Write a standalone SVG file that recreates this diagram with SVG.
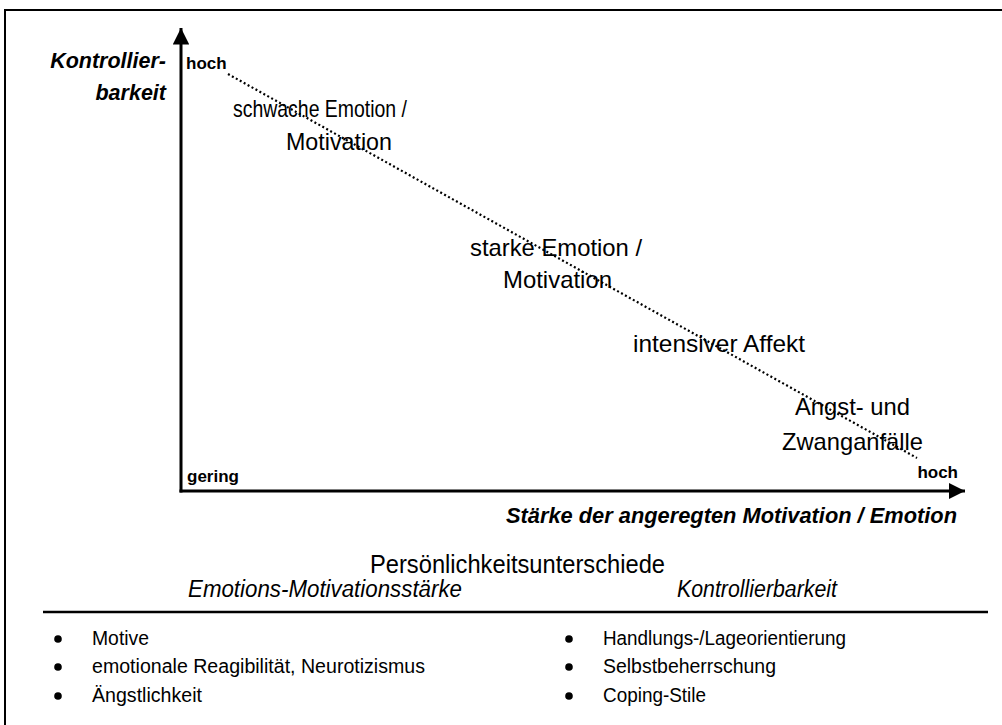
<svg xmlns="http://www.w3.org/2000/svg" width="1002" height="725" viewBox="0 0 1002 725">
<style>
.bi{font-family:"Liberation Sans",Arial,sans-serif;font-weight:bold;font-style:italic;font-size:21.5px;fill:#000}
.b{font-family:"Liberation Sans",Arial,sans-serif;font-weight:bold;font-size:17px;fill:#000}
.r{font-family:"Liberation Sans",Arial,sans-serif;font-size:24px;fill:#000}
.i{font-family:"Liberation Sans",Arial,sans-serif;font-style:italic;font-size:23px;fill:#000}
.l{font-family:"Liberation Sans",Arial,sans-serif;font-size:20px;fill:#000}
.axis{stroke:#000;stroke-width:3;fill:none}
</style>
<defs>
<marker id="ah" viewBox="0 0 10 10" refX="10" refY="5" markerWidth="5.5" markerHeight="5.5" markerUnits="strokeWidth" orient="auto">
<path d="M0,0 L10,5 L0,10 Z" fill="#000"/>
</marker>
</defs>
<rect x="5" y="10" width="1100" height="800" fill="#fff" stroke="#000" stroke-width="2"/>
<g id="connectors">
<line class="axis" x1="181" y1="492.5" x2="181" y2="28" marker-end="url(#ah)"/>
<line class="axis" x1="179.5" y1="491" x2="965" y2="491" marker-end="url(#ah)"/>
<line x1="228" y1="74" x2="917" y2="458" stroke="#000" stroke-width="2.2" stroke-dasharray="2 2.5"/>
</g>
<g id="y-axis-label">
<text class="bi" x="166" y="68" text-anchor="end">Kontrollier-</text>
<text class="bi" x="166" y="100" text-anchor="end">barkeit</text>
<text class="b" x="186" y="69">hoch</text>
<text class="b" x="187" y="482">gering</text>
</g>
<g id="x-axis-label">
<text class="bi" x="957" y="523" text-anchor="end" textLength="451" lengthAdjust="spacingAndGlyphs">Stärke der angeregten Motivation / Emotion</text>
<text class="b" x="958" y="478" text-anchor="end">hoch</text>
</g>
<g id="node-schwach">
<text class="r" x="233" y="117" textLength="174" lengthAdjust="spacingAndGlyphs">schwache Emotion /</text>
<text class="r" x="286" y="150" textLength="106" lengthAdjust="spacingAndGlyphs">Motivation</text>
</g>
<g id="node-stark">
<text class="r" x="470" y="256" textLength="172" lengthAdjust="spacingAndGlyphs">starke Emotion /</text>
<text class="r" x="503" y="288" textLength="109" lengthAdjust="spacingAndGlyphs">Motivation</text>
</g>
<g id="node-affekt">
<text class="r" x="633" y="352" textLength="172" lengthAdjust="spacingAndGlyphs">intensiver Affekt</text>
</g>
<g id="node-angst">
<text class="r" x="795" y="415" textLength="115" lengthAdjust="spacingAndGlyphs">Angst- und</text>
<text class="r" x="782" y="450" textLength="141" lengthAdjust="spacingAndGlyphs">Zwanganfälle</text>
</g>
<g id="persoenlichkeit">
<text class="r" x="370" y="573" style="font-size:25px" textLength="295" lengthAdjust="spacingAndGlyphs">Persönlichkeitsunterschiede</text>
<text class="i" x="188" y="597" textLength="274" lengthAdjust="spacingAndGlyphs">Emotions-Motivationsstärke</text>
<text class="i" x="677" y="597" textLength="160" lengthAdjust="spacingAndGlyphs">Kontrollierbarkeit</text>
<line x1="43" y1="612" x2="988" y2="612" stroke="#000" stroke-width="2.5"/>
</g>
<g id="list-left">
<circle cx="58" cy="639" r="3.8"/>
<circle cx="58" cy="667" r="3.8"/>
<circle cx="58" cy="696" r="3.8"/>
<text class="l" x="92" y="645" textLength="57" lengthAdjust="spacingAndGlyphs">Motive</text>
<text class="l" x="92" y="673" textLength="333" lengthAdjust="spacingAndGlyphs">emotionale Reagibilität, Neurotizismus</text>
<text class="l" x="92" y="702" textLength="110" lengthAdjust="spacingAndGlyphs">Ängstlichkeit</text>
</g>
<g id="list-right">
<circle cx="569" cy="639" r="3.8"/>
<circle cx="569" cy="667" r="3.8"/>
<circle cx="569" cy="696" r="3.8"/>
<text class="l" x="603" y="645" textLength="243" lengthAdjust="spacingAndGlyphs">Handlungs-/Lageorientierung</text>
<text class="l" x="603" y="673" textLength="173" lengthAdjust="spacingAndGlyphs">Selbstbeherrschung</text>
<text class="l" x="603" y="702" textLength="103" lengthAdjust="spacingAndGlyphs">Coping-Stile</text>
</g>
</svg>
